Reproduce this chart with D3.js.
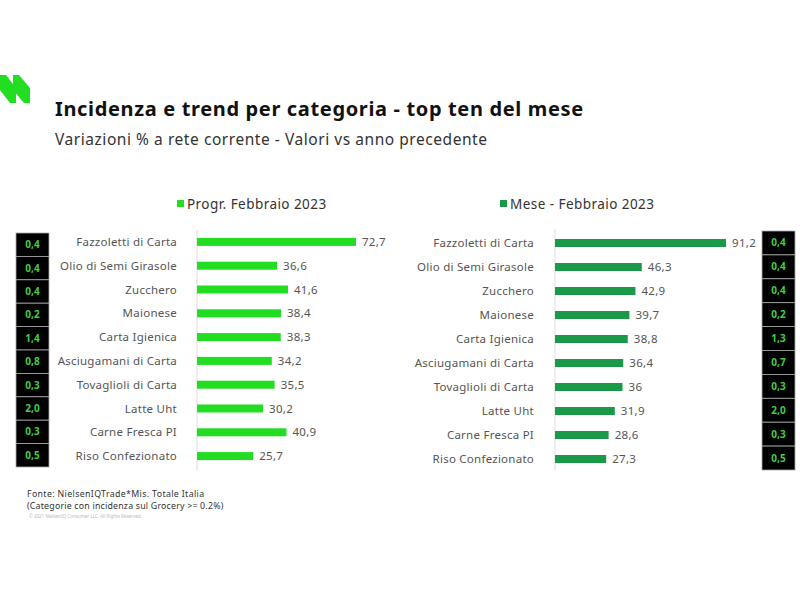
<!DOCTYPE html>
<html><head><meta charset="utf-8">
<script src="https://cdn.jsdelivr.net/npm/d3@7"></script>
<style>body{margin:0;background:#fff}svg{display:block}text{font-family:"Noto Sans",sans-serif}</style>
</head><body><svg id="c" width="800" height="600"></svg>
<script>
const categories = ["Fazzoletti di Carta","Olio di Semi Girasole","Zucchero","Maionese","Carta Igienica","Asciugamani di Carta","Tovaglioli di Carta","Latte Uht","Carne Fresca PI","Riso Confezionato"];
const progrValues = [72.7,36.6,41.6,38.4,38.3,34.2,35.5,30.2,40.9,25.7];
const meseValues = [91.2,46.3,42.9,39.7,38.8,36.4,36,31.9,28.6,27.3];
const progrIncidenza = ["0,4","0,4","0,4","0,2","1,4","0,8","0,3","2,0","0,3","0,5"];
const meseIncidenza = ["0,4","0,4","0,4","0,2","1,3","0,7","0,3","2,0","0,3","0,5"];
const seriesNames = ["Progr. Febbraio 2023","Mese - Febbraio 2023"];
const title = "Incidenza e trend per categoria - top ten del mese";
const subtitle = "Variazioni % a rete corrente - Valori vs anno precedente";
const notes = ["Fonte: NielsenIQTrade*Mis. Totale Italia","(Categorie con incidenza sul Grocery >= 0.2%)"];
const copyright = "© 2021 NielsenIQ Consumer LLC. All Rights Reserved.";

const svg = d3.select("#c");
const fmt = v => String(v).replace(".", ",");

// logo
const logo = svg.append("g").attr("fill","#22dd22");
logo.append("path").attr("d","M0,75 L6,75 L16,88 L16,103 L10,103 L0,90 Z");
logo.append("path").attr("d","M13,75 L19,75 L30,88 L30,103 L24,103 L13,90 Z");

svg.append("text").attr("x",55).attr("y",116).attr("font-size",20).attr("font-weight",700).attr("letter-spacing",0.65).attr("fill","#111").text(title);
svg.append("text").attr("x",55).attr("y",145).attr("font-size",15.5).attr("letter-spacing",0.55).attr("fill","#333").text(subtitle);

function panel(opts){
  const y = d3.scaleBand().domain(categories).range(opts.yr).paddingInner(0);
  const x = d3.scaleLinear().domain([0,100]).range([opts.x0, opts.x0 + opts.pxPer100]);
  const g = svg.append("g");
  // legend
  g.append("rect").attr("x",opts.legX).attr("y",200).attr("width",7).attr("height",7).attr("fill",opts.color);
  g.append("text").attr("x",opts.legX+10).attr("y",208.5).attr("font-size",13.5).attr("letter-spacing",0.45).attr("fill","#333").text(opts.name);
  // axis line
  g.append("line").attr("x1",opts.x0).attr("x2",opts.x0).attr("y1",229).attr("y2",471).attr("stroke","#ddd").attr("stroke-width",1);
  const barH = 8;
  g.selectAll(".bar").data(opts.values).join("rect")
    .attr("x", x(0)).attr("y",(d,i)=>y(categories[i])+y.bandwidth()/2-barH/2)
    .attr("width", d=>x(d)-x(0)).attr("height",barH).attr("fill",opts.color);
  g.selectAll(".val").data(opts.values).join("text")
    .attr("x", d=>x(d)+6).attr("y",(d,i)=>y(categories[i])+y.bandwidth()/2+4)
    .attr("font-size",11.5).attr("letter-spacing",0.3).attr("fill","#555").text(d=>fmt(d));
  g.selectAll(".lab").data(categories).join("text")
    .attr("x", opts.labX).attr("y", d=>y(d)+y.bandwidth()/2+4)
    .attr("text-anchor","end").attr("font-size",11.5).attr("letter-spacing",0.25).attr("fill","#555").text(d=>d);
  // incidence boxes
  const yb = d3.scaleBand().domain(categories).range(opts.boxYr);
  const bg = g.append("g");
  bg.selectAll("rect").data(opts.inc).join("rect")
    .attr("x",opts.boxX).attr("y",(d,i)=>yb(categories[i])).attr("width",33).attr("height",yb.bandwidth())
    .attr("fill","#000").attr("stroke","#aaa").attr("stroke-width",0.8);
  bg.selectAll("text").data(opts.inc).join("text")
    .attr("x",opts.boxX+16.5).attr("y",(d,i)=>yb(categories[i])+yb.bandwidth()/2+3.5)
    .attr("text-anchor","middle").attr("font-size",10).attr("font-weight",700).attr("fill","#44cc44").text(d=>d);
}

panel({values:progrValues, inc:progrIncidenza, name:seriesNames[0], color:"#22dd22",
  x0:197, pxPer100:218.7, yr:[230,468], labX:177, legX:177, boxX:16, boxYr:[233,467]});
panel({values:meseValues, inc:meseIncidenza, name:seriesNames[1], color:"#1a9a48",
  x0:555, pxPer100:187.5, yr:[231,471], labX:534, legX:500, boxX:762, boxYr:[231,470]});

svg.append("text").attr("x",27).attr("y",497).attr("font-size",8.8).attr("letter-spacing",0.35).attr("fill","#333").text(notes[0]);
svg.append("text").attr("x",27).attr("y",509).attr("font-size",8.8).attr("letter-spacing",0.2).attr("fill","#333").text(notes[1]);
svg.append("text").attr("x",29).attr("y",518).attr("font-size",4.5).attr("fill","#bbb").text(copyright);
</script></body></html>
